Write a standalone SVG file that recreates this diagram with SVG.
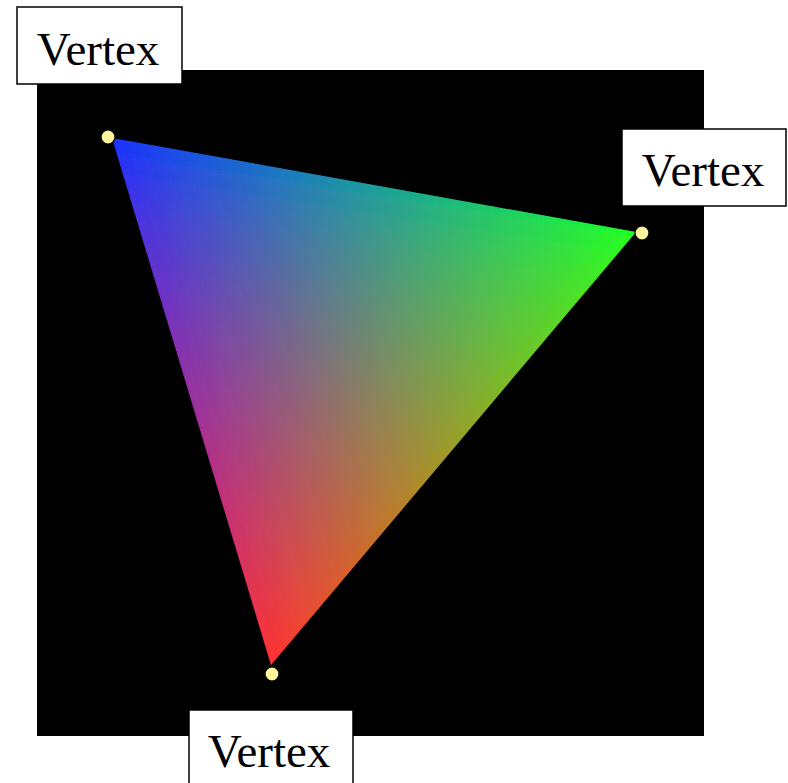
<svg xmlns="http://www.w3.org/2000/svg" width="788" height="783" viewBox="0 0 788 783">
  <style>
    .lbl rect { fill: #ffffff; stroke: #000000; stroke-width: 1.5; }
    .lbl text { font-family: "Liberation Serif", "Times New Roman", serif; font-size: 47px; fill: #000000; text-anchor: middle; }
    .dot { fill: #fff59d; stroke: #000000; stroke-width: 1.2; }
    .shade { mix-blend-mode: screen; }
  </style>
  <defs>
    <linearGradient id="gB" gradientUnits="userSpaceOnUse" x1="112" y1="138" x2="464.6" y2="435.3">
      <stop offset="0" stop-color="#0a1aff"/>
      <stop offset="1" stop-color="#000000"/>
    </linearGradient>
    <linearGradient id="gG" gradientUnits="userSpaceOnUse" x1="636" y1="232" x2="181.7" y2="369.1">
      <stop offset="0" stop-color="#10ff10"/>
      <stop offset="1" stop-color="#000000"/>
    </linearGradient>
    <linearGradient id="gR" gradientUnits="userSpaceOnUse" x1="271" y1="665" x2="357.6" y2="182.1">
      <stop offset="0" stop-color="#ff1a1a"/>
      <stop offset="1" stop-color="#000000"/>
    </linearGradient>
    <filter id="bright" x="0" y="0" width="1" height="1">
      <feComponentTransfer>
        <feFuncR type="gamma" amplitude="1" exponent="0.75" offset="0"/>
        <feFuncG type="gamma" amplitude="1" exponent="0.75" offset="0"/>
        <feFuncB type="gamma" amplitude="1" exponent="0.75" offset="0"/>
      </feComponentTransfer>
    </filter>
  </defs>

  <rect id="background" x="37" y="70" width="667" height="666" fill="#000000"/>

  <g id="triangle" style="isolation:isolate" filter="url(#bright)">
    <polygon points="112,138 636,232 271,665" fill="#000000"/>
    <polygon class="shade" points="112,138 636,232 271,665" fill="url(#gB)"/>
    <polygon class="shade" points="112,138 636,232 271,665" fill="url(#gG)"/>
    <polygon class="shade" points="112,138 636,232 271,665" fill="url(#gR)"/>
  </g>

  <g id="vertex-top-left">
    <circle class="dot" cx="108" cy="137" r="7"/>
    <g class="lbl">
      <rect x="17" y="7" width="165" height="77"/>
      <text x="98" y="65">Vertex</text>
    </g>
  </g>

  <g id="vertex-right">
    <circle class="dot" cx="642" cy="233" r="7"/>
    <g class="lbl">
      <rect x="622" y="129" width="164" height="77"/>
      <text x="703" y="186">Vertex</text>
    </g>
  </g>

  <g id="vertex-bottom">
    <circle class="dot" cx="272" cy="674" r="7"/>
    <g class="lbl">
      <rect x="189" y="710" width="164" height="77"/>
      <text x="269" y="767">Vertex</text>
    </g>
  </g>
</svg>
